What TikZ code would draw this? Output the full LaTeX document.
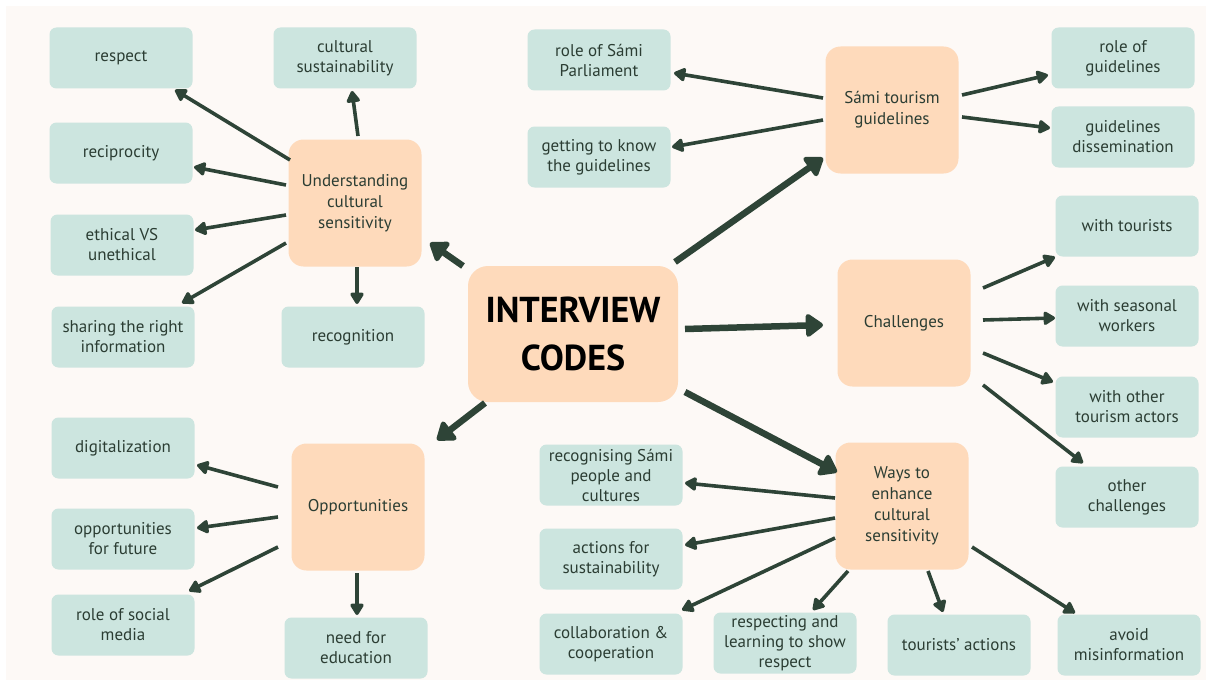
\documentclass[tikz,border=0pt]{standalone}
\usepackage{fontspec}
\setmainfont{PT Sans}
\usetikzlibrary{arrows.meta,calc}
\definecolor{bgcream}{HTML}{FDF9F6}
\definecolor{tealbox}{HTML}{CCE5DF}
\definecolor{peachbox}{HTML}{FEDABB}
\definecolor{arrowgreen}{HTML}{2E4437}
\definecolor{inkgreen}{HTML}{2B3D33}

\begin{document}
\begin{tikzpicture}[x=1pt,y=-1pt,
    code/.style={fill=tealbox,rounded corners=7pt,minimum width=143pt,minimum height=61pt,inner sep=2pt,align=center,text=inkgreen,font=\fontsize{17}{20}\selectfont},
    theme/.style={fill=peachbox,rounded corners=15pt,minimum width=133pt,minimum height=127pt,align=center,text=inkgreen,font=\fontsize{17}{21}\selectfont},
    root/.style={fill=peachbox,rounded corners=20pt,minimum width=210pt,minimum height=136pt,align=center,text=black,font=\fontsize{36}{48}\selectfont\bfseries},
    link/.style={-{Triangle[length=13pt,width=15pt,round]},line width=3.6pt,draw=arrowgreen},
    mainlink/.style={-{Triangle[length=19pt,width=26pt,round]},line width=6.5pt,draw=arrowgreen}
  ]
    % Canvas
    \useasboundingbox (0,0) rectangle (1206,682);
    \fill[bgcream] (6,6) rectangle (1206,680);

    % Central node
    \node[root] (codes) at (573,334) {INTERVIEW\\CODES};

    % Themes
    \node[theme] (und) at (355,203) {Understanding\\cultural\\sensitivity};
    \node[theme] (sami) at (892,110) {Sámi tourism\\guidelines};
    \node[theme] (chal) at (904,323) {Challenges};
    \node[theme] (ways) at (902,506) {Ways to\\enhance\\cultural\\sensitivity};
    \node[theme] (opp) at (358,507) {Opportunities};

    % Codes - understanding cultural sensitivity
    \node[code] (resp) at (121,58) {respect};
    \node[code] (csus) at (345,58) {cultural\\sustainability};
    \node[code] (recip) at (121,153) {reciprocity};
    \node[code] (eth) at (122,245) {ethical VS\\unethical};
    \node[code] (share) at (123,337) {sharing the right\\information};
    \node[code] (recog) at (353,337) {recognition};

    % Codes - guidelines
    \node[code] (rsp) at (599,60) {role of Sámi\\Parliament};
    \node[code] (gtk) at (599,157) {getting to know\\the guidelines};
    \node[code] (rog) at (1123,58) {role of\\guidelines};
    \node[code] (gdis) at (1123,137) {guidelines\\dissemination};

    % Codes - challenges
    \node[code] (wt) at (1127,226) {with tourists};
    \node[code] (wsw) at (1127,316) {with seasonal\\workers};
    \node[code] (woa) at (1127,407) {with other\\tourism actors};
    \node[code] (oc) at (1127,497) {other\\challenges};

    % Codes - ways to enhance
    \node[code] (rsc) at (611,475) {recognising Sámi\\people and\\cultures};
    \node[code] (afs) at (611,559) {actions for\\sustainability};
    \node[code] (cc) at (611,644) {collaboration \&\\cooperation};
    \node[code] (rlr) at (785,643) {respecting and\\learning to show\\respect};
    \node[code] (ta) at (959,645) {tourists’ actions};
    \node[code] (am) at (1129,645) {avoid\\misinformation};

    % Codes - opportunities
    \node[code] (dig) at (123,448) {digitalization};
    \node[code] (oft) at (123,539) {opportunities\\for future};
    \node[code] (rsm) at (123,625) {role of social\\media};
    \node[code] (nfe) at (356,648) {need for\\education};

    % Main arrows
    \draw[mainlink] ([shift={(-110,-68)}]codes.center) -- ([shift={(75,40)}]und.center);
    \draw[mainlink] ([shift={(102,-72)}]codes.center) -- ([shift={(-69,48)}]sami.center);
    \draw[mainlink] ([shift={(112,-5)}]codes.center) -- ([shift={(-81,2)}]chal.center);
    \draw[mainlink] ([shift={(112,58)}]codes.center) -- ([shift={(-65,-34)}]ways.center);
    \draw[mainlink] ([shift={(-88,69)}]codes.center) -- ([shift={(79,-67)}]opp.center);

    % Theme arrows
    \foreach \ax/\ay/\t/\bx/\by in {-65/-43/resp/54/32, 3/-67/csus/7/33, -69/-18/recip/73/14,
        -69/12/eth/73/-15, -69/40/share/59/-34, 2/64/recog/4/-33}
      \draw[link] ([shift={(\ax,\ay)}]und.center) -- ([shift={(\bx,\by)}]\t.center);
    \foreach \ax/\ay/\t/\bx/\by in {-69/-12/rsp/75/13, -69/10/gtk/73/-10, 70/-15/rog/-75/17, 70/7/gdis/-73/-9}
      \draw[link] ([shift={(\ax,\ay)}]sami.center) -- ([shift={(\bx,\by)}]\t.center);
    \foreach \ax/\ay/\t/\bx/\by in {79/-35/wt/-72/31, 79/-3/wsw/-72/2, 79/30/woa/-74/-25, 79/62/oc/-44/-34}
      \draw[link] ([shift={(\ax,\ay)}]chal.center) -- ([shift={(\bx,\by)}]\t.center);
    \foreach \ax/\ay/\t/\bx/\by in {-67/-8/rsc/74/8, -67/12/afs/74/-14, -67/32/cc/71/-34,
        -54/65/rlr/28/-33, 26/65/ta/-16/-33, 70/41/am/-54/-32}
      \draw[link] ([shift={(\ax,\ay)}]ways.center) -- ([shift={(\bx,\by)}]\t.center);
    \foreach \ax/\ay/\t/\bx/\by in {-80/-20/dig/74/17, -80/10/oft/74/-11, -80/40/rsm/66/-34, -1/66/nfe/1/-33}
      \draw[link] ([shift={(\ax,\ay)}]opp.center) -- ([shift={(\bx,\by)}]\t.center);
  \end{tikzpicture}
\end{document}
